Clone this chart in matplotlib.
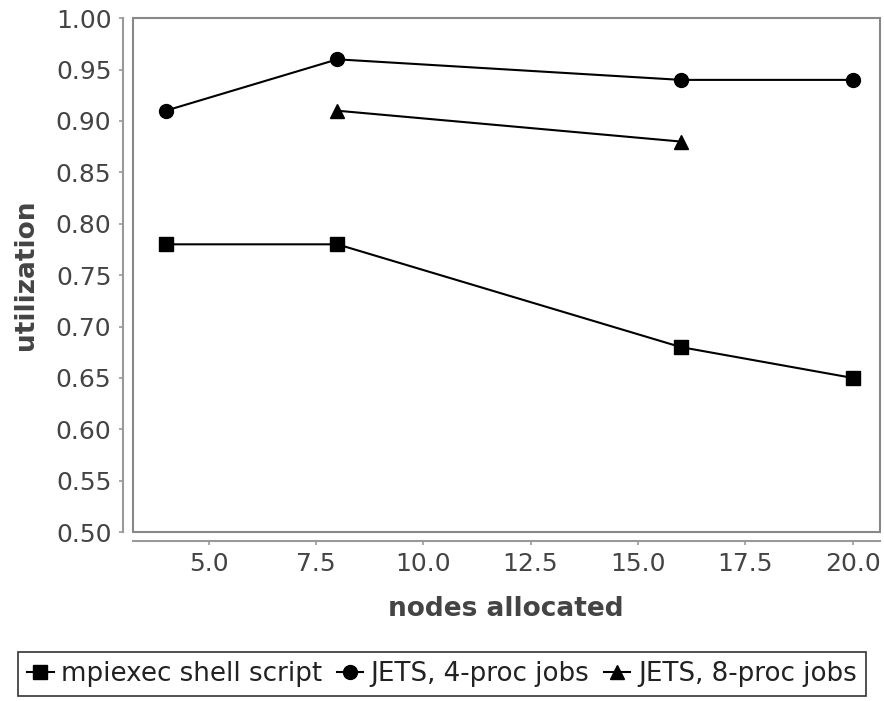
import matplotlib
matplotlib.use("Agg")
import matplotlib.pyplot as plt
from matplotlib.patches import Rectangle

# nodes allocated vs utilization
nodes_mpi = [4, 8, 16, 20]
util_mpi = [0.78, 0.78, 0.68, 0.65]
nodes_j4 = [4, 8, 16, 20]
util_j4 = [0.91, 0.96, 0.94, 0.94]
nodes_j8 = [8, 16]
util_j8 = [0.91, 0.88]

x_ticks = [5.0, 7.5, 10.0, 12.5, 15.0, 17.5, 20.0]
y_ticks = [0.50, 0.55, 0.60, 0.65, 0.70, 0.75, 0.80, 0.85, 0.90, 0.95, 1.00]

plt.rcParams['font.family'] = ['DejaVu Sans']

fig = plt.figure(figsize=(8.84, 7.01), dpi=100)
ax = fig.add_axes([0.150, 0.241, 0.845, 0.733])

ax.plot(nodes_mpi, util_mpi, color='black', lw=1.5, marker='s', ms=10,
        label='mpiexec shell script')
ax.plot(nodes_j4, util_j4, color='black', lw=1.5, marker='o', ms=10,
        label='JETS, 4-proc jobs')
ax.plot(nodes_j8, util_j8, color='black', lw=1.5, marker='^', ms=10,
        label='JETS, 8-proc jobs')

ax.set_xlim(3.23, 20.63)
ax.set_ylim(0.5, 1.0)
ax.set_xticks(x_ticks)
ax.set_xticklabels(['%.1f' % v for v in x_ticks])
ax.set_yticks(y_ticks)
ax.set_yticklabels(['%.2f' % v for v in y_ticks])

# JFreeChart-like look: offset axis lines + grey plot border
for s in ['top', 'right']:
    ax.spines[s].set_visible(False)
ax.spines['left'].set_position(('outward', 7.2))
ax.spines['bottom'].set_position(('outward', 6.5))
for s in ['left', 'bottom']:
    ax.spines[s].set_color('#999999')
    ax.spines[s].set_linewidth(1.5)
ax.add_patch(Rectangle((0, 0), 1, 1, transform=ax.transAxes, fill=False,
                       edgecolor='#888888', lw=1.5, clip_on=False, zorder=0))

ax.tick_params(colors='#999999', labelcolor='#444444', labelsize=18,
               length=3, width=1.2, pad=5)

ax.set_xlabel('nodes allocated', fontsize=19, fontweight='bold',
              color='#444444', labelpad=14)
ax.set_ylabel('utilization', fontsize=19, fontweight='bold',
              color='#444444', labelpad=12)

leg = fig.legend(loc='lower center', bbox_to_anchor=(0.5, 0.0), ncol=3,
                 fontsize=18.8, frameon=True, fancybox=False, handlelength=1.0,
                 handletextpad=0.3, columnspacing=0.55, borderpad=0.35,
                 borderaxespad=0.2, labelcolor='#222222')
leg.get_frame().set_edgecolor('black')
leg.get_frame().set_linewidth(1.2)

fig.savefig('out.png', dpi=100)
